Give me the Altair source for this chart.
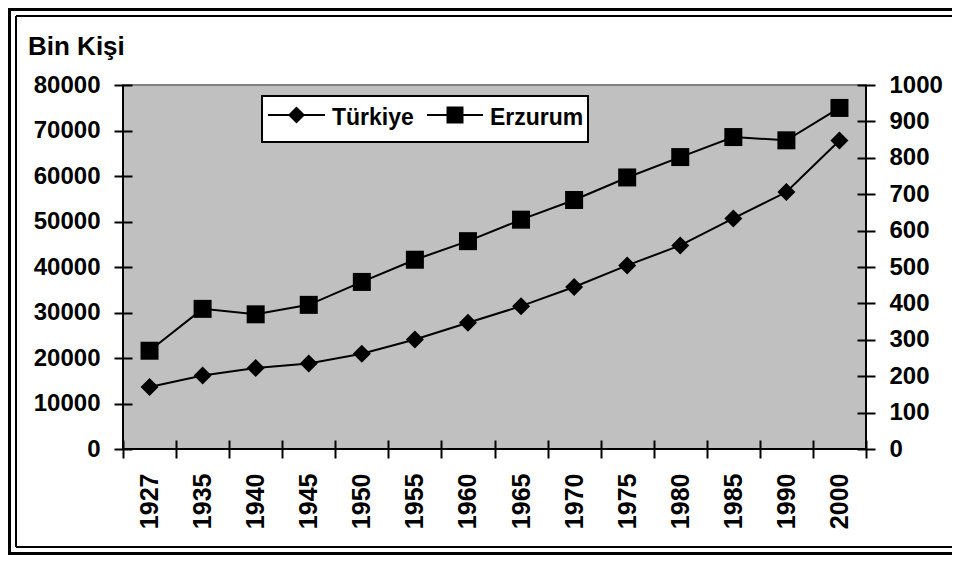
import json
import pandas as pd
import altair as alt

# ---- data ----
years = ["1927", "1935", "1940", "1945", "1950", "1955", "1960",
         "1965", "1970", "1975", "1980", "1985", "1990", "2000"]
turkiye = [13648, 16158, 17821, 18790, 20947, 24065, 27755,
           31391, 35605, 40348, 44737, 50664, 56473, 67804]
erzurum = [270, 385, 370, 396, 459, 520, 571,
           630, 684, 746, 802, 857, 848, 937]
series = ["Türkiye", "Erzurum"]
y_title = "Bin Kişi"
left_ticks = [0, 10000, 20000, 30000, 40000, 50000, 60000, 70000, 80000]
right_ticks = [0, 100, 200, 300, 400, 500, 600, 700, 800, 900, 1000]

W, H = 743, 364
FONT = "Liberation Sans"

df = pd.DataFrame({"idx": list(range(len(years))), "year": years,
                   "tr": turkiye, "ez": erzurum})

bounds = [i - 0.5 for i in range(len(years) + 1)]
xvals = bounds + list(range(len(years)))
label_expr = "datum.value % 1 !== 0 ? '' : " + json.dumps(years) + "[datum.value]"

x_axis = alt.Axis(
    values=xvals, labelExpr=label_expr, labelAngle=270,
    labelAlign="right", labelBaseline="middle",
    labelFont=FONT, labelFontSize=25, labelFontWeight="bold", labelColor="black",
    labelPadding=15, labelOverlap=False, labelBound=False, labelFlush=False,
    tickSize=18, tickWidth=2, tickColor="black",
    tickOpacity={"condition": {"test": "datum.value % 1 === 0", "value": 0}, "value": 1},
    offset=-9, domain=False, grid=False, title=None,
)
x_enc = alt.X("idx:Q", scale=alt.Scale(domain=[-0.5, len(years) - 0.5], nice=False, zero=False),
              axis=x_axis)


def y_axis(orient, vals):
    return alt.Axis(
        orient=orient, values=vals, format="d",
        labelFont=FONT, labelFontSize=24, labelFontWeight="bold", labelColor="black",
        labelPadding=14, labelOverlap=False, labelBound=False, labelFlush=False,
        tickSize=18, tickWidth=2, tickColor="black",
        offset=-9, domain=False, grid=False, title=None,
    )


tr_layer = alt.Chart(df).mark_line(
    color="black", strokeWidth=2,
    point=alt.OverlayMarkDef(shape="diamond", size=324, filled=True, color="black", opacity=1),
).encode(
    x=x_enc,
    y=alt.Y("tr:Q", scale=alt.Scale(domain=[0, 80000], nice=False), axis=y_axis("left", left_ticks)),
)

ez_layer = alt.Chart(df).mark_line(
    color="black", strokeWidth=2,
    point=alt.OverlayMarkDef(shape="square", size=324, filled=True, color="black", opacity=1),
).encode(
    x=x_enc,
    y=alt.Y("ez:Q", scale=alt.Scale(domain=[0, 1000], nice=False), axis=y_axis("right", right_ticks)),
)

one = pd.DataFrame({"k": [0]})
base = alt.Chart(one)


def hrule(y, x1, x2, w, color="black"):
    return base.mark_rule(color=color, strokeWidth=w).encode(
        x=alt.value(x1), x2=alt.value(x2), y=alt.value(y))


def vrule(x, y1, y2, w, color="black"):
    return base.mark_rule(color=color, strokeWidth=w).encode(
        x=alt.value(x), y=alt.value(y1), y2=alt.value(y2))


# outer double frame (right edge falls outside the picture)
frame = [
    vrule(-113.5, -75.5, 468.5, 3), hrule(-75.5, -115, 829, 3), hrule(468.5, -115, 829, 3),
    vrule(-107, -69, 462, 2), hrule(-69, -107, 829, 2), hrule(462, -107, 829, 2),
]

# axis lines
axis_lines = [vrule(0, 0, H, 2), vrule(W, 0, H, 2), hrule(H, -1, W + 1, 2)]

title = base.mark_text(text=y_title, font=FONT, fontSize=26, fontWeight="bold",
                       align="left", baseline="alphabetic", color="black").encode(
    x=alt.value(-95), y=alt.value(-30))

# legend
legend = [
    base.mark_rect(fill="white", stroke="black", strokeWidth=2).encode(
        x=alt.value(139), x2=alt.value(465), y=alt.value(11), y2=alt.value(57)),
    hrule(30, 145, 202, 2),
    base.mark_point(shape="diamond", size=289, filled=True, color="black", opacity=1).encode(
        x=alt.value(173.5), y=alt.value(30)),
    base.mark_text(text=series[0], font=FONT, fontSize=23, fontWeight="bold",
                   align="left", baseline="alphabetic", color="black").encode(
        x=alt.value(209), y=alt.value(40)),
    hrule(30, 304, 360, 2),
    base.mark_point(shape="square", size=289, filled=True, color="black", opacity=1).encode(
        x=alt.value(332), y=alt.value(30)),
    base.mark_text(text=series[1], font=FONT, fontSize=23, fontWeight="bold",
                   align="left", baseline="alphabetic", color="black").encode(
        x=alt.value(367), y=alt.value(40)),
]

chart = alt.layer(
    *frame, tr_layer, ez_layer, *axis_lines, title, *legend
).resolve_scale(
    y="independent"
).properties(
    width=W, height=H,
    padding={"left": 115, "top": 77, "right": 86, "bottom": 106},
    autosize=alt.AutoSizeParams(type="none"),
).configure_view(
    fill="#C0C0C0", stroke="#808080", strokeWidth=2,
)

chart.save("out.html", embed_options={"renderer": "svg", "actions": False})
